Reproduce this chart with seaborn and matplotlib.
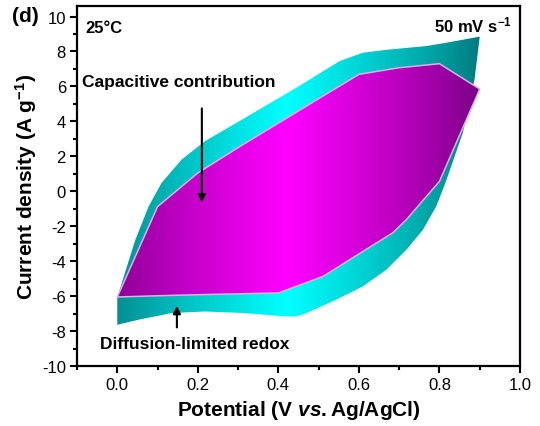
import numpy as np
import matplotlib
matplotlib.use("Agg")
import matplotlib.pyplot as plt
import seaborn as sns
import pandas as pd
from matplotlib.colors import LinearSegmentedColormap
from matplotlib.patches import Polygon
from matplotlib.ticker import MultipleLocator

# ---- data ----
# total current (cyan), anodic branch and cathodic branch
total_fwd_x = [0.0, 0.012, 0.024, 0.045, 0.078, 0.11, 0.16, 0.218, 0.317, 0.38, 0.45,
               0.552, 0.61, 0.67, 0.726, 0.767, 0.817, 0.9]
total_fwd_y = [-6.1, -5.2, -4.3, -2.77, -0.86, 0.48, 1.82, 2.87, 4.2, 5.05, 6.0,
               7.45, 7.93, 8.1, 8.22, 8.31, 8.5, 8.85]
total_rev_x = [0.9, 0.887, 0.858, 0.815, 0.792, 0.759, 0.718, 0.668, 0.61, 0.544, 0.47,
               0.445, 0.416, 0.317, 0.218, 0.135, 0.053, 0.0]
total_rev_y = [8.85, 6.4, 3.35, 0.5, -0.86, -2.2, -3.34, -4.49, -5.44, -6.2, -6.97,
               -7.16, -7.16, -6.97, -6.88, -6.97, -7.35, -7.64]
# capacitive contribution (magenta)
cap_fwd_x = [0.0, 0.1, 0.2, 0.3, 0.4, 0.5, 0.6, 0.7, 0.8, 0.9]
cap_fwd_y = [-6.05, -0.88, 1.05, 2.5, 3.9, 5.3, 6.69, 7.07, 7.3, 5.85]
cap_rev_x = [0.9, 0.8, 0.718, 0.684, 0.61, 0.511, 0.4, 0.3, 0.2, 0.1, 0.0]
cap_rev_y = [5.85, 0.57, -1.62, -2.38, -3.44, -4.87, -5.82, -5.87, -5.92, -5.98, -6.05]

x_ticks = [0.0, 0.2, 0.4, 0.6, 0.8, 1.0]
x_ticklabels = ["0.0", "0.2", "0.4", "0.6", "0.8", "1.0"]
y_ticks = [-10, -8, -6, -4, -2, 0, 2, 4, 6, 8, 10]

sns.set_theme(style="ticks")
plt.rcParams['font.family'] = ['Liberation Sans', 'DejaVu Sans']
plt.rcParams['mathtext.fontset'] = 'custom'
plt.rcParams['mathtext.rm'] = 'Liberation Sans:bold'
plt.rcParams['mathtext.it'] = 'Liberation Sans:italic:bold'
plt.rcParams['mathtext.bf'] = 'Liberation Sans:bold'
plt.rcParams['axes.unicode_minus'] = False
for k in ['text.color', 'axes.labelcolor', 'xtick.color', 'ytick.color', 'axes.edgecolor']:
    plt.rcParams[k] = 'black'

fig = plt.figure(figsize=(5.4, 4.27), dpi=100)
ax = fig.add_axes([0.1426, 0.1405, 0.8204, 0.843])

XLIM = (-0.1, 1.0)
YLIM = (-10, 10.6)


def gradient_fill(xs, ys, dark, bright, zorder):
    poly = Polygon(np.column_stack([xs, ys]), closed=True, facecolor='none',
                   edgecolor='none', zorder=zorder)
    ax.add_patch(poly)
    cmap = LinearSegmentedColormap.from_list('g', [dark, bright])
    gx = np.linspace(XLIM[0], XLIM[1], 500)
    t = np.clip(1 - np.abs(gx - 0.42) / 0.5, 0, 1) ** 0.8
    im = ax.imshow(t[np.newaxis, :], extent=[XLIM[0], XLIM[1], YLIM[0], YLIM[1]],
                   aspect='auto', cmap=cmap, vmin=0, vmax=1, origin='lower',
                   zorder=zorder, interpolation='bilinear')
    im.set_clip_path(poly)


tx = list(total_fwd_x) + list(total_rev_x[1:])
ty = list(total_fwd_y) + list(total_rev_y[1:])
cx = list(cap_fwd_x) + list(cap_rev_x[1:])
cy = list(cap_fwd_y) + list(cap_rev_y[1:])

gradient_fill(tx, ty, '#006e72', '#00ffff', 1)
gradient_fill(cx, cy, '#6e0078', '#ff00ff', 2)

outline = pd.DataFrame({'x': cx + [cx[0]], 'y': cy + [cy[0]]})
sns.lineplot(data=outline, x='x', y='y', sort=False, estimator=None,
             color='#d9b3ec', lw=1.1, ax=ax, legend=False, zorder=3)

ax.set_xlim(*XLIM)
ax.set_ylim(*YLIM)
ax.set_xticks(x_ticks)
ax.set_xticklabels(x_ticklabels)
ax.set_yticks(y_ticks)
ax.xaxis.set_minor_locator(MultipleLocator(0.1))
ax.yaxis.set_minor_locator(MultipleLocator(1))
ax.tick_params(which='major', direction='out', length=5, width=1.5, labelsize=12,
               top=False, right=False, pad=3, colors='black')
ax.tick_params(which='minor', direction='out', length=3, width=1.5,
               top=False, right=False, colors='black')
for s in ax.spines.values():
    s.set_linewidth(1.6)
    s.set_color('black')
    s.set_visible(True)

ax.set_xlabel(r"Potential (V $\mathit{vs.}$Ag/AgCl)", fontsize=15, fontweight='bold', labelpad=4)
ax.set_ylabel(r"Current density (A g$^{-1}$)", fontsize=15, fontweight='bold', labelpad=2)

ax.text(-0.079, 9.38, "25°C", fontsize=12, fontweight='bold', va='center', ha='left')
ax.text(0.98, 9.55, r"50 mV s$^{-1}$", fontsize=12, fontweight='bold', va='center', ha='right')
ax.text(-0.087, 6.3, "Capacitive contribution", fontsize=12.5, fontweight='bold',
        va='center', ha='left', zorder=5)
ax.text(-0.042, -8.69, "Diffusion-limited redox", fontsize=12.5, fontweight='bold',
        va='center', ha='left', zorder=5)
ax.annotate('', xy=(0.21, -0.8), xytext=(0.21, 4.9),
            arrowprops=dict(arrowstyle='-|>', color='black', lw=1.5, mutation_scale=11),
            zorder=6)
ax.annotate('', xy=(0.148, -6.4), xytext=(0.148, -7.95),
            arrowprops=dict(arrowstyle='-|>', color='black', lw=1.5, mutation_scale=11),
            zorder=6)

fig.text(0.022, 0.9625, "(d)", fontsize=15, fontweight='bold', va='center', ha='left')

fig.savefig("out.png", dpi=100)
